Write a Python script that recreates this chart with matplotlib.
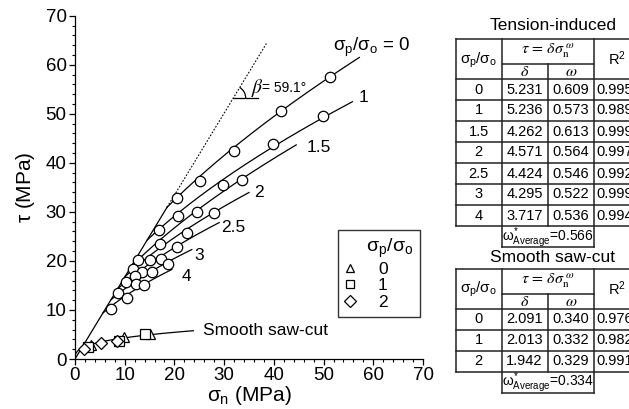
import numpy as np
import matplotlib
matplotlib.use('Agg')
import matplotlib.pyplot as plt
from matplotlib.lines import Line2D
from matplotlib.patches import Arc

plt.rcParams['font.family'] = ['Liberation Sans', 'DejaVu Sans']
plt.rcParams['mathtext.fontset'] = 'custom'
plt.rcParams['mathtext.rm'] = 'Liberation Sans'
plt.rcParams['mathtext.it'] = 'Liberation Sans'
plt.rcParams['mathtext.sf'] = 'Liberation Sans'
plt.rcParams['mathtext.bf'] = 'Liberation Sans:bold'

# tension-induced fits: tau = delta * sigma_n ** omega
ratios = ['0', '1', '1.5', '2', '2.5', '3', '4']
delta = [5.231, 5.236, 4.262, 4.571, 4.424, 4.295, 3.717]
omega = [0.609, 0.573, 0.613, 0.564, 0.546, 0.522, 0.536]
r2 = [0.995, 0.989, 0.999, 0.997, 0.992, 0.999, 0.994]
omega_avg = 0.566
curve_end = [57.2, 55.8, 44.5, 35.0, 29.0, 23.5, 19.5]

# measured points (sigma_n, tau) in MPa
sn_pts = [
    [20.5, 25.2, 31.9, 41.5, 51.2],
    [16.8, 20.8, 29.8, 39.8, 49.9],
    [12.7, 17.0, 24.6, 33.5],
    [11.7, 15.0, 22.5, 28.0],
    [10.3, 13.5, 17.2, 20.5],
    [8.7, 12.1, 15.4, 18.8],
    [7.2, 10.5, 12.3, 13.9],
]
tau_pts = [
    [32.9, 36.2, 42.4, 50.6, 57.4],
    [26.4, 29.1, 35.4, 43.8, 49.6],
    [20.2, 23.4, 29.9, 36.5],
    [18.3, 20.2, 25.7, 29.7],
    [15.7, 17.7, 20.3, 22.9],
    [13.4, 16.9, 17.7, 19.3],
    [10.1, 12.4, 15.2, 15.1],
]

# smooth saw-cut fits and points
smooth_ratios = ['0', '1', '2']
smooth_delta = [2.091, 2.013, 1.942]
smooth_omega = [0.340, 0.332, 0.329]
smooth_r2 = [0.976, 0.982, 0.991]
smooth_omega_avg = 0.334
smooth_end = 23.8
smooth_sn = [[3.2, 9.9, 15.1], [2.55, 8.9, 14.0], [1.9, 5.2, 8.4]]
smooth_tau = [[2.85, 4.5, 5.1], [2.5, 3.7, 5.1], [2.0, 3.2, 3.7]]
smooth_markers = ['^', 's', 'D']

beta = 59.1
beta_end = 38.5

# label positions (data coords)
label_xy = [(51.9, 63.5), (57.0, 53.4), (46.5, 43.2), (36.0, 33.9),
            (29.3, 26.9), (24.1, 21.2), (21.5, 16.8)]

fig = plt.figure(figsize=(6.29, 4.09), dpi=100)
ax = fig.add_axes([75 / 629, 50 / 409, 348 / 629, 343.3 / 409])

k = np.tan(np.radians(beta))
lw = 0.9

# envelope line at beta
x_t = (delta[0] / k) ** (1 / (1 - omega[0]))
ax.plot([0, x_t], [0, k * x_t], color='black', lw=lw)
ax.plot([x_t, beta_end], [k * x_t, k * beta_end], color='black', lw=0.8, ls=(0, (1.5, 1.5)))

# fitted curves
for i in range(len(ratios)):
    xs = (delta[i] / k) ** (1 / (1 - omega[i]))
    x = np.linspace(xs, curve_end[i], 200)
    ax.plot(x, delta[i] * x ** omega[i], color='black', lw=lw)
    ax.plot(sn_pts[i], tau_pts[i], ls='none', marker='o', ms=7.5, mfc='white',
            mec='black', mew=0.9, zorder=3)

for i, lab in enumerate(ratios):
    txt = r'$\sigma_\mathrm{p}/\sigma_\mathrm{o}$ = 0' if i == 0 else lab
    ax.text(label_xy[i][0], label_xy[i][1], txt, fontsize=13.5 if i == 0 else 12.5,
            va='center', ha='left')

# smooth saw-cut
x = np.linspace(0, smooth_end, 200)
ax.plot(x, smooth_delta[1] * x ** smooth_omega[1], color='black', lw=lw)
for i in range(3):
    ax.plot(smooth_sn[i], smooth_tau[i], ls='none', marker=smooth_markers[i],
            ms=7 if i != 2 else 6.5, mfc='white', mec='black', mew=0.9, zorder=3)
ax.text(25.8, 5.8, 'Smooth saw-cut', fontsize=12.5, va='center', ha='left')

# beta angle mark
y_b = 53.2
x_b = y_b / k
ax.plot([x_b, x_b + 5.0], [y_b, y_b], color='black', lw=lw)
ax.add_patch(Arc((x_b, y_b), 2 * 2.5, 2 * 2.5 * 4.97 / 4.91, theta1=0, theta2=beta,
                 color='black', lw=lw))
ax.text(35.4, 55.3, r'$\beta$', fontsize=14, va='center', ha='left', math_fontfamily='stix')
ax.text(37.7, 55.3, '= 59.1\u00b0', fontsize=10, va='center', ha='left')

ax.set_xlim(0, 70)
ax.set_ylim(0, 70)
ax.set_xticks(np.arange(0, 71, 10))
ax.set_yticks(np.arange(0, 71, 10))
ax.set_xticks(np.arange(0, 71, 2), minor=True)
ax.set_yticks(np.arange(0, 71, 2), minor=True)
ax.tick_params(which='major', direction='out', length=4, width=0.9, labelsize=13.5, pad=2)
ax.tick_params(which='minor', direction='out', length=2.5, width=0.8)
for s in ['top', 'right']:
    ax.spines[s].set_visible(False)
for s in ['left', 'bottom']:
    ax.spines[s].set_linewidth(0.9)
ax.set_xlabel(r'$\sigma_\mathrm{n}$ (MPa)', fontsize=15, labelpad=0)
ax.set_ylabel(r'$\tau$ (MPa)', fontsize=15, labelpad=6)

handles = [Line2D([], [], ls='none', marker=m, ms=6, mfc='white', mec='black', mew=0.9)
           for m in smooth_markers]
leg = ax.legend(handles, smooth_ratios,
                title='    ' + r'$\sigma_\mathrm{p}/\sigma_\mathrm{o}$',
                loc='upper left', bbox_to_anchor=(0.7557, 0.3758), fontsize=12.5,
                title_fontsize=14, frameon=True, fancybox=False, edgecolor='black',
                labelspacing=0.08, borderpad=0.4, handlelength=0.6, handletextpad=1.3,
                borderaxespad=0)
leg.get_frame().set_linewidth(1.0)
leg._legend_box.align = 'left'

# tables drawn on an overlay in pixel coords
tx = fig.add_axes([0, 0, 1, 1])
tx.set_xlim(0, 629)
tx.set_ylim(409, 0)
tx.axis('off')


def draw_table(title, top, rats, ds, ws, rs, wavg, title_gap):
    x0, x1, x2, x3, x4 = 456, 501.5, 547.5, 594, 660
    hmid = top + 25
    hb = top + 40
    rh = 21
    bot = hb + len(rats) * rh
    abot = bot + 21
    kw = dict(color='#222222', lw=1.1, solid_capstyle='projecting')
    tx.plot([x0, x4], [top, top], **kw)
    tx.plot([x1, x3], [hmid, hmid], **kw)
    for j in range(len(rats) + 1):
        tx.plot([x0, x4], [hb + j * rh] * 2, **kw)
    tx.plot([x1, x3], [abot, abot], **kw)
    tx.plot([x0, x0], [top, bot], **kw)
    tx.plot([x1, x1], [top, abot], **kw)
    tx.plot([x3, x3], [top, abot], **kw)
    tx.plot([x2, x2], [hmid, bot], **kw)
    tx.text(553, top - title_gap, title, fontsize=12.5, ha='center', va='center')
    tx.text((x0 + x1) / 2, top + 21, r'$\sigma_\mathrm{p}/\sigma_\mathrm{o}$',
            fontsize=11, ha='center', va='center')
    tx.text((x1 + x3) / 2, top + 12, r'$\tau\,=\,\delta\sigma_\mathrm{n}^{\ \omega}$',
            fontsize=11.5, ha='center', va='center', math_fontfamily='stix')
    tx.text((x1 + x2) / 2, hmid + 7.5, r'$\delta$', fontsize=11.5, ha='center',
            va='center', math_fontfamily='stix')
    tx.text((x2 + x3) / 2, hmid + 7.5, r'$\omega$', fontsize=11.5, ha='center',
            va='center', math_fontfamily='stix')
    tx.text(617, top + 20, r'R$^2$', fontsize=10.5, ha='center', va='center')
    for j in range(len(rats)):
        yc = hb + j * rh + rh / 2
        tx.text((x0 + x1) / 2, yc, rats[j], fontsize=10.5, ha='center', va='center')
        tx.text((x1 + x2) / 2, yc, f'{ds[j]:.3f}', fontsize=10.5, ha='center', va='center')
        tx.text((x2 + x3) / 2, yc, f'{ws[j]:.3f}', fontsize=10.5, ha='center', va='center')
        tx.text(x3 + 2.5, yc, f'{rs[j]:.3f}', fontsize=10.5, ha='left', va='center')
    tx.text((x1 + x3) / 2, bot + 14.5,
            r'$\omega^{*}_{\mathrm{Average}}$' + f'={wavg:.3f}',
            fontsize=10, ha='center', va='baseline')


draw_table('Tension-induced', 39, ratios, delta, omega, r2, omega_avg, 14)
draw_table('Smooth saw-cut', 268.7, smooth_ratios, smooth_delta, smooth_omega,
           smooth_r2, smooth_omega_avg, 11.5)

fig.savefig('out.png', dpi=100)
